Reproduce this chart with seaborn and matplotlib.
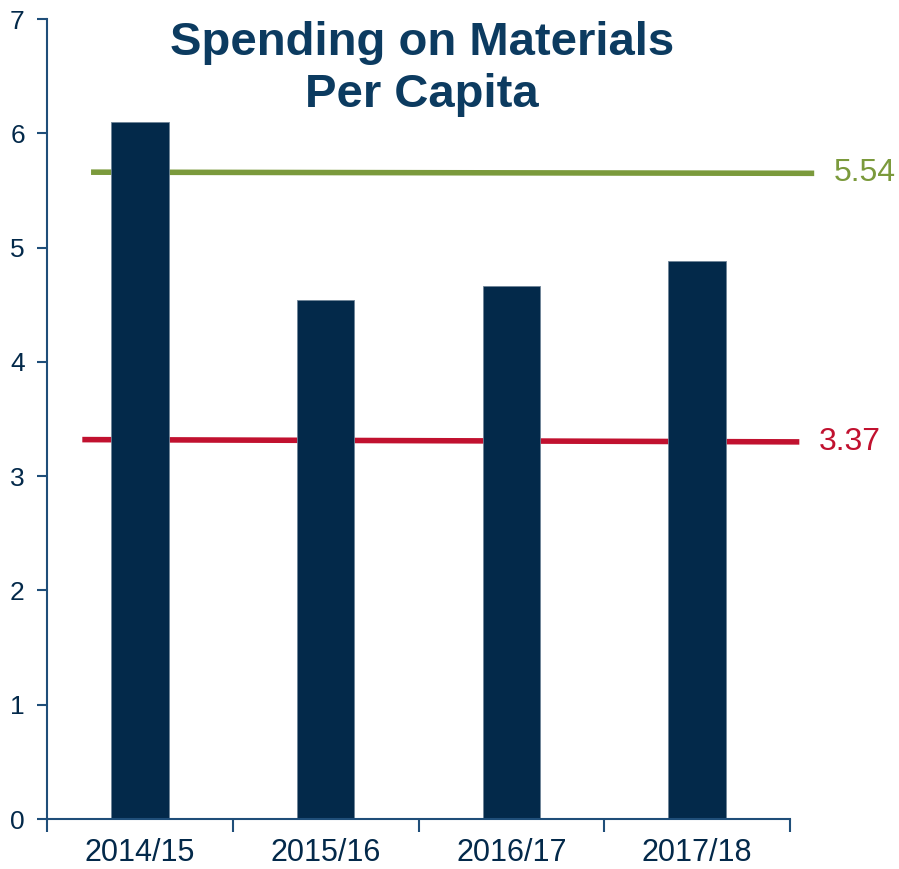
import matplotlib
matplotlib.use("Agg")
import matplotlib.pyplot as plt
import seaborn as sns
import pandas as pd
import numpy as np

categories = ["2014/15", "2015/16", "2016/17", "2017/18"]
values = [6.10, 4.54, 4.66, 4.88]
green_line = [5.66, 5.65]
green_label = "5.54"
red_line = [3.32, 3.30]
red_label = "3.37"
yticks = [0, 1, 2, 3, 4, 5, 6, 7]
title = "Spending on Materials\nPer Capita"

sns.set_style("white")
plt.rcParams['font.family'] = ['Liberation Sans', 'DejaVu Sans']

navy = "#03294A"
axis_col = "#1F4E79"
green = "#7B9A3C"
red = "#C1112F"
title_col = "#0C3B60"

fig = plt.figure(figsize=(8.99, 8.69), dpi=100)
ax = fig.add_axes([0.0523, 0.0575, 0.8265, 0.9206])

df = pd.DataFrame({"cat": categories, "val": values})

ax.plot([-0.263, 3.63], green_line, color=green, lw=4, clip_on=False, zorder=1,
        solid_capstyle="butt")
ax.plot([-0.31, 3.55], red_line, color=red, lw=4, clip_on=False, zorder=1,
        solid_capstyle="butt")

sns.barplot(data=df, x="cat", y="val", color=navy, saturation=1, width=0.31,
            ax=ax, zorder=2, edgecolor="#6F8498", linewidth=0.6)

ax.text(3.735, green_line[1], green_label, color=green, fontsize=23,
        va="center", ha="left", clip_on=False)
ax.text(3.655, red_line[1], red_label, color=red, fontsize=23,
        va="center", ha="left", clip_on=False)

ax.set_xlim(-0.5, 3.5)
ax.set_ylim(0, 7)
ax.set_yticks(yticks)
ax.set_yticklabels([str(t) for t in yticks], fontsize=19, color=navy)
ax.set_xticks(range(len(categories)))
ax.set_xticklabels(categories, fontsize=22, color=navy)
ax.set_xticks(np.arange(-0.5, 4.0, 1.0), minor=True)
ax.tick_params(axis="x", which="major", bottom=True, length=0, pad=14)
ax.tick_params(axis="x", which="minor", bottom=True, length=9, width=1.5,
               color=axis_col, direction="out")
ax.tick_params(axis="y", left=True, length=7, width=1.5, color=axis_col,
               direction="out", pad=9)
ax.set_xlabel("")
ax.set_ylabel("")

for s in ["top", "right"]:
    ax.spines[s].set_visible(False)
for s in ["left", "bottom"]:
    ax.spines[s].set_color(axis_col)
    ax.spines[s].set_linewidth(1.5)

ax.text(0.505, 0.997, title, transform=ax.transAxes, ha="center", va="top",
        fontsize=34, fontweight="bold", color=title_col, linespacing=1.22)

fig.savefig("out.png", dpi=100)
